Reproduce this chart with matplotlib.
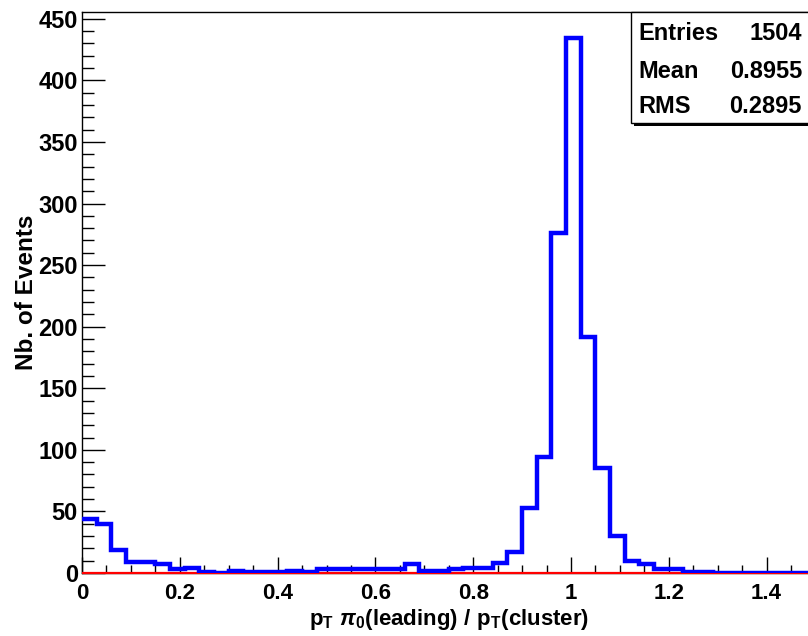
import numpy as np
import matplotlib
matplotlib.use('Agg')
from matplotlib import pyplot as plt
from matplotlib.patches import Rectangle
from matplotlib.ticker import MultipleLocator

# histogram: 50 bins from 0 to 1.5
bin_lo = 0.0
bin_hi = 1.5
n_bins = 50
counts = [44, 40, 19, 9, 9, 7, 3, 4, 1, 0,
          2, 1, 1, 1, 2, 1, 3, 3, 3, 3,
          3, 3, 7, 2, 2, 3, 4, 4, 8, 17,
          53, 94, 276, 434, 192, 85, 30, 10, 7, 3,
          3, 1, 1, 0, 0, 0, 0, 0, 0, 0]
counts_red = [0] * n_bins

stat_names = ["Entries", "Mean", "RMS"]
stat_values = ["1504", "0.8955", "0.2895"]

font = 'Liberation Sans'
plt.rcParams['font.family'] = [font, 'DejaVu Sans']
plt.rcParams['font.weight'] = 'bold'
plt.rcParams['mathtext.fontset'] = 'custom'
plt.rcParams['mathtext.rm'] = font + ':bold'
plt.rcParams['mathtext.it'] = font + ':bold:italic'
plt.rcParams['mathtext.bf'] = font + ':bold'

edges = np.linspace(bin_lo, bin_hi, n_bins + 1)

fig = plt.figure(figsize=(8.08, 6.36), dpi=100)
ax = fig.add_axes([82 / 808, 63 / 636, 733.5 / 808, 561 / 636])

# red (empty) histogram sits on the axis, blue one on top
ax.stairs(counts_red, edges, color='red', linewidth=1.6, baseline=None, zorder=2.6, clip_on=False)
ax.stairs(counts, edges, color='blue', linewidth=3.2, baseline=None, zorder=2.7)

ax.set_xlim(bin_lo, bin_hi)
ax.set_ylim(0, 455.5)

ax.xaxis.set_major_locator(MultipleLocator(0.2))
ax.xaxis.set_minor_locator(MultipleLocator(0.05))
ax.yaxis.set_major_locator(MultipleLocator(50))
ax.yaxis.set_minor_locator(MultipleLocator(10))
ax.xaxis.set_major_formatter(matplotlib.ticker.FuncFormatter(lambda v, p: f"{v:g}"))

ax.tick_params(axis='x', which='major', direction='in', length=11.5, width=1, labelsize=16, pad=7)
ax.tick_params(axis='x', which='minor', direction='in', length=5.8, width=1)
ax.tick_params(axis='y', which='major', direction='in', length=16.5, width=1, labelsize=17, pad=3)
ax.tick_params(axis='y', which='minor', direction='in', length=8.6, width=1)
for s in ax.spines.values():
    s.set_linewidth(1.0)

ax.set_xlabel(r'$\mathbf{p_{T}}\ \mathit{\pi}_{\mathbf{0}}\mathbf{(leading)\ /\ p_{T}(cluster)}$',
              fontsize=16, labelpad=2)
ax.set_ylabel('Nb. of Events', fontsize=17.5, fontweight='bold')
ax.yaxis.set_label_coords(-44 / 733.5, 0.5)

# stats box
x0, x1 = 631 / 808, 1.02
y0, y1 = 1 - 123 / 636, 1 - 12 / 636
fig.patches.append(Rectangle((x0 + 3 / 808, y0 - 3 / 636), x1 - x0, y1 - y0,
                             transform=fig.transFigure, facecolor='black', edgecolor='none', zorder=5))
fig.patches.append(Rectangle((x0, y0), x1 - x0, y1 - y0, transform=fig.transFigure,
                             facecolor='white', edgecolor='black', linewidth=1.0, zorder=6))
rows_y = [1 - 40 / 636, 1 - 78 / 636, 1 - 113 / 636]
for name, val, yy in zip(stat_names, stat_values, rows_y):
    fig.text(638 / 808, yy, name, fontsize=17, fontweight='bold', va='baseline', ha='left', zorder=7)
    fig.text(802 / 808, yy, val, fontsize=17, fontweight='bold', va='baseline', ha='right', zorder=7)

plt.savefig("out.png", dpi=100)
plt.close(fig)
